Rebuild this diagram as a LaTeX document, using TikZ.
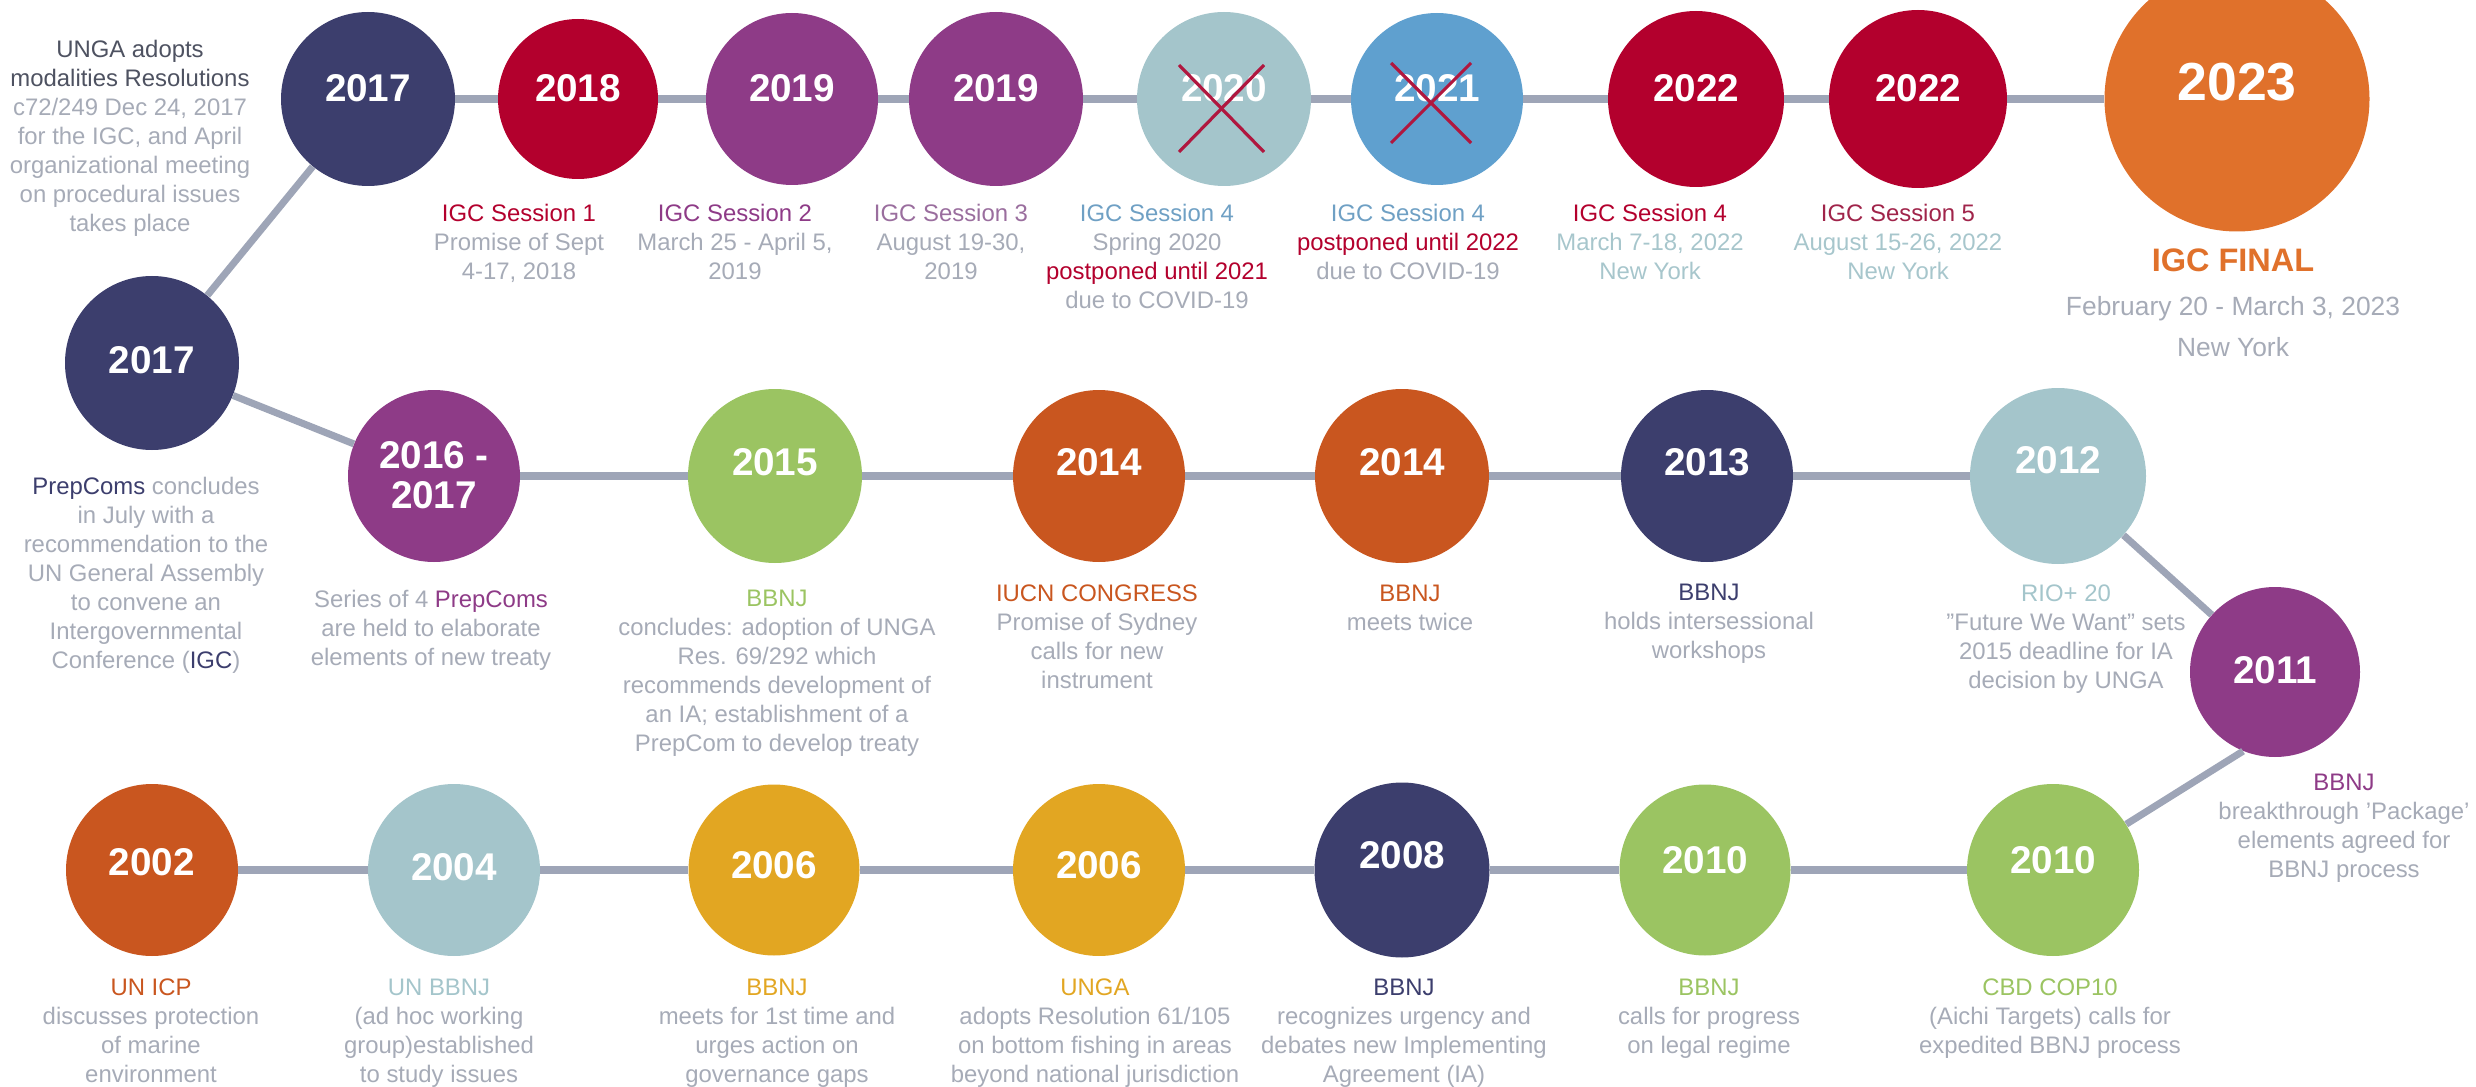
\documentclass[tikz,border=0pt]{standalone}
\usepackage{fontspec}
\setmainfont{Liberation Sans}
\usetikzlibrary{calc}
\definecolor{ink}{HTML}{3C3E6D}
\definecolor{crimson}{HTML}{B3002D}
\definecolor{plum}{HTML}{8E3B87}
\definecolor{seafoam}{HTML}{A4C5CB}
\definecolor{sky}{HTML}{5FA0CF}
\definecolor{tangerine}{HTML}{E0712B}
\definecolor{rust}{HTML}{C9561F}
\definecolor{leaf}{HTML}{9BC462}
\definecolor{gold}{HTML}{E2A622}
\definecolor{wire}{HTML}{9EA5B7}
\definecolor{fog}{HTML}{A6ABB7}
\definecolor{slate}{HTML}{4E5261}
\definecolor{mist}{HTML}{A7C6CC}
\definecolor{lilac}{HTML}{9A6E9E}
\definecolor{steel}{HTML}{6FA0C4}
\definecolor{wine}{HTML}{A0244A}
\definecolor{xmark}{HTML}{B0173F}

\begin{document}
\begin{tikzpicture}[
  ball/.style={circle, inner sep=0pt},
  year/.style={text=white, align=center, font=\bfseries\fontsize{22}{22.7}\selectfont},
  note/.style={anchor=north, inner sep=0pt, align=center, text=fog, font=\fontsize{13.6}{16.5}\selectfont},
  link/.style={wire, line width=4pt},
  xout/.style={xmark, line width=1.8pt}
]
\useasboundingbox (0,0) rectangle (49.52,-21.74);

% circles
\foreach \n/\x/\y/\dia/\col/\yr/\yt in {
  a1/7.36/-1.98/3.48/ink/2017/-1.76,
  a2/11.56/-1.98/3.2/crimson/2018/-1.76,
  a3/15.84/-1.98/3.44/plum/2019/-1.76,
  a4/19.92/-1.98/3.48/plum/2019/-1.76,
  a5/24.48/-1.98/3.48/seafoam/2020/-1.76,
  a6/28.74/-1.98/3.44/sky/2021/-1.76,
  a7/33.92/-1.98/3.52/crimson/2022/-1.76,
  a8/38.36/-1.98/3.56/crimson/2022/-1.76,
  b1/3.04/-7.26/3.48/ink/2017/-7.2,
  b2/8.68/-9.52/3.44/plum/{2016 -\\2017}/-9.5,
  b3/15.5/-9.52/3.48/leaf/2015/-9.24,
  b4/21.98/-9.52/3.44/rust/2014/-9.24,
  b5/28.04/-9.52/3.48/rust/2014/-9.24,
  b6/34.14/-9.52/3.44/ink/2013/-9.24,
  b7/41.16/-9.52/3.52/seafoam/2012/-9.2,
  b8/45.5/-13.44/3.4/plum/2011/-13.4,
  c1/3.04/-17.4/3.44/rust/2002/-17.24,
  c2/9.08/-17.4/3.44/seafoam/2004/-17.34,
  c3/15.48/-17.4/3.42/gold/2006/-17.3,
  c4/21.98/-17.4/3.44/gold/2006/-17.3,
  c5/28.04/-17.4/3.5/ink/2008/-17.1,
  c6/34.1/-17.4/3.42/leaf/2010/-17.2,
  c7/41.06/-17.4/3.44/leaf/2010/-17.2}
{
  \node[ball, fill=\col, minimum size=\dia cm] (\n) at (\x,\y) {};
  \node[year] (\n-yr) at (\x,\yt) {\yr};
}
\node[ball, fill=tangerine, minimum size=5.3cm] (a9) at (44.74,-1.98) {};
\node[year, font=\bfseries\fontsize{30.5}{34}\selectfont] (a9-yr) at (44.74,-1.64) {2023};

% connectors
\foreach \p/\q in {a1/a2,a2/a3,a3/a4,a4/a5,a5/a6,a6/a7,a7/a8,a8/a9,
                   a1/b1,b1/b2,b2/b3,b3/b4,b4/b5,b5/b6,b6/b7,b7/b8,
                   c1/c2,c2/c3,c3/c4,c4/c5,c5/c6,c6/c7}
    \draw[link] (\p) -- (\q);
\draw[link] (c7) -- (b8.248);

% postponed sessions
\draw[xout] ($(a5)+(-0.9,0.68)$) -- ($(a5)+(0.8,-1.06)$);
\draw[xout] ($(a5)+(0.8,0.68)$) -- ($(a5)+(-0.9,-1.06)$);
\draw[xout] ($(a6)+(-0.92,0.72)$) -- ($(a6)+(0.68,-0.88)$);
\draw[xout] ($(a6)+(0.68,0.72)$) -- ($(a6)+(-0.92,-0.88)$);

% top row
\node[note] (a1-txt) at (2.6,-0.79) {\textcolor{slate}{UNGA adopts}\\\textcolor{slate}{modalities Resolutions}\\c72/249 Dec 24, 2017\\for the IGC, and April\\organizational meeting\\on procedural issues\\takes place};
\node[note] (a2-txt) at (10.38,-4.07) {\textcolor{crimson}{IGC Session 1}\\Promise of Sept\\4-17, 2018};
\node[note] (a3-txt) at (14.7,-4.07) {\textcolor{plum}{IGC Session 2}\\March 25 - April 5,\\2019};
\node[note] (a4-txt) at (19.02,-4.07) {\textcolor{lilac}{IGC Session 3}\\August 19-30,\\2019};
\node[note] (a5-txt) at (23.14,-4.07) {\textcolor{steel}{IGC Session 4}\\Spring 2020\\\textcolor{crimson}{postponed until 2021}\\due to COVID-19};
\node[note] (a6-txt) at (28.16,-4.07) {\textcolor{steel}{IGC Session 4}\\\textcolor{crimson}{postponed until 2022}\\due to COVID-19};
\node[note] (a7-txt) at (33.0,-4.07) {\textcolor{crimson}{IGC Session 4}\\\textcolor{mist}{March 7-18, 2022}\\\textcolor{mist}{New York}};
\node[note] (a8-txt) at (37.96,-4.07) {\textcolor{wine}{IGC Session 5}\\\textcolor{mist}{August 15-26, 2022}\\\textcolor{mist}{New York}};
\node[text=tangerine, font=\bfseries\fontsize{18.5}{22}\selectfont] (a9-head) at (44.66,-5.2) {IGC FINAL};
\node[note, font=\fontsize{15}{22.8}\selectfont] (a9-txt) at (44.66,-5.93) {February 20 - March 3, 2023\\New York};

% middle row
\node[note] (b1-txt) at (2.92,-9.53) {\textcolor{ink}{PrepComs} concludes\\in July with a\\recommendation to the\\UN General Assembly\\to convene an\\Intergovernmental\\Conference (\textcolor{ink}{IGC})};
\node[note] (b2-txt) at (8.62,-11.79) {Series of 4 \textcolor{plum}{PrepComs}\\are held to elaborate\\elements of new treaty};
\node[note] (b3-txt) at (15.54,-11.79) {\textcolor{leaf}{BBNJ}\\concludes: adoption of UNGA\\Res. 69/292 which\\recommends development of\\an IA; establishment of a\\PrepCom to develop treaty};
\node[note] (b4-txt) at (21.94,-11.69) {\textcolor{rust}{IUCN CONGRESS}\\Promise of Sydney\\calls for new\\instrument};
\node[note] (b5-txt) at (28.2,-11.69) {\textcolor{rust}{BBNJ}\\meets twice};
\node[note] (b6-txt) at (34.18,-11.67) {\textcolor{ink}{BBNJ}\\holds intersessional\\workshops};
\node[note] (b7-txt) at (41.32,-11.69) {\textcolor{seafoam}{RIO+ 20}\\"Future We Want" sets\\2015 deadline for IA\\decision by UNGA};
\node[note] (b8-txt) at (46.88,-15.47) {\textcolor{plum}{BBNJ}\\breakthrough 'Package'\\elements agreed for\\BBNJ process};

% bottom row
\node[note] (c1-txt) at (3.02,-19.57) {\textcolor{rust}{UN ICP}\\discusses protection\\of marine\\environment};
\node[note] (c2-txt) at (8.78,-19.57) {\textcolor{seafoam}{UN BBNJ}\\(ad hoc working\\group)established\\to study issues};
\node[note] (c3-txt) at (15.54,-19.57) {\textcolor{gold}{BBNJ}\\meets for 1st time and\\urges action on\\governance gaps};
\node[note] (c4-txt) at (21.9,-19.57) {\textcolor{gold}{UNGA}\\adopts Resolution 61/105\\on bottom fishing in areas\\beyond national jurisdiction};
\node[note] (c5-txt) at (28.08,-19.57) {\textcolor{ink}{BBNJ}\\recognizes urgency and\\debates new Implementing\\Agreement (IA)};
\node[note] (c6-txt) at (34.18,-19.57) {\textcolor{leaf}{BBNJ}\\calls for progress\\on legal regime};
\node[note] (c7-txt) at (41.0,-19.57) {\textcolor{leaf}{CBD COP10}\\(Aichi Targets) calls for\\expedited BBNJ process};
\end{tikzpicture}
\end{document}
